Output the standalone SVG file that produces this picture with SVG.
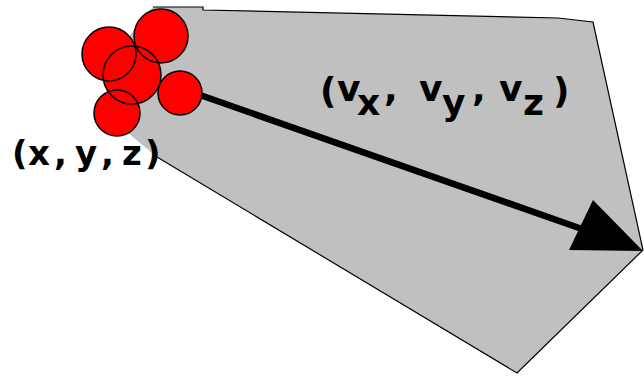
<svg xmlns="http://www.w3.org/2000/svg" width="644" height="377" viewBox="0 0 644 377">
<style>
.ball{fill:#ff0000;stroke:none}
.ring{fill:none;stroke:#000;stroke-width:1.5}
.lbl{font-family:"DejaVu Sans",Verdana,sans-serif;font-weight:bold;fill:#000}
</style>
<rect width="644" height="377" fill="#fff"/>
<g id="cone">
<polygon points="153,7 203,7 203,10 558,18 593,22 643,250 517,373 157,157 122,128 110,60" fill="#c0c0c0"/>
<polyline points="153,7 203,7 203,10 558,18 593,22 643,250 517,373 157,157" fill="none" stroke="#000" stroke-width="1.2"/>
</g>
<g id="connectors">
<line x1="200" y1="95" x2="582" y2="229" stroke="#000" stroke-width="6.5"/>
<polygon points="593,200 569,250 643,251" fill="#000"/>
</g>
<g id="particle">
<circle class="ball" cx="161" cy="36" r="27"/>
<circle class="ball" cx="109" cy="54" r="27"/>
<circle class="ball" cx="132" cy="75" r="29"/>
<circle class="ball" cx="180" cy="93" r="22"/>
<circle class="ball" cx="117" cy="113" r="23"/>
<circle class="ring" cx="161" cy="36" r="27"/>
<circle class="ring" cx="109" cy="54" r="27"/>
<circle class="ring" cx="132" cy="75" r="29"/>
<circle class="ring" cx="180" cy="93" r="22"/>
<circle class="ring" cx="117" cy="113" r="23"/>
</g>
<g id="label-position">
<text class="lbl" font-size="34" y="165"><tspan x="12">(</tspan><tspan x="28">x</tspan><tspan x="54">,</tspan><tspan x="75">y</tspan><tspan x="101">,</tspan><tspan x="122">z</tspan><tspan x="145">)</tspan></text>
</g>
<g id="label-velocity">
<text class="lbl" font-size="36"><tspan x="320" y="103">(</tspan><tspan x="337" y="101">v</tspan><tspan x="357" y="115">x</tspan><tspan x="384" y="101">,</tspan><tspan x="419" y="101">v</tspan><tspan x="442" y="115">y</tspan><tspan x="472" y="101">,</tspan><tspan x="499" y="101">v</tspan><tspan x="523" y="115">z</tspan><tspan x="553" y="103">)</tspan></text>
</g>
</svg>
